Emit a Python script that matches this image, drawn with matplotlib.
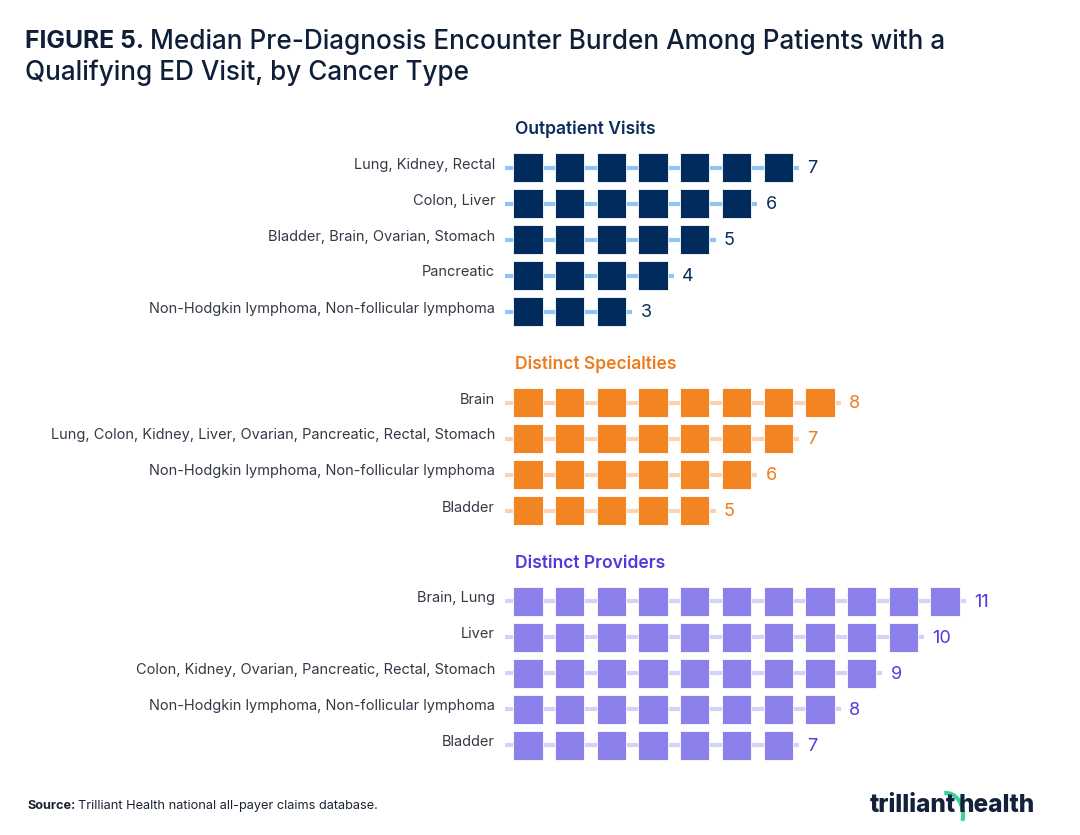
import matplotlib.pyplot as plt
from matplotlib.patches import Rectangle, Arc

plt.rcParams['font.family'] = ['Inter', 'DejaVu Sans']

# data
op_labels = ['Lung, Kidney, Rectal', 'Colon, Liver', 'Bladder, Brain, Ovarian, Stomach',
             'Pancreatic', 'Non-Hodgkin lymphoma, Non-follicular lymphoma']
op_values = [7, 6, 5, 4, 3]

sp_labels = ['Brain', 'Lung, Colon, Kidney, Liver, Ovarian, Pancreatic, Rectal, Stomach',
             'Non-Hodgkin lymphoma, Non-follicular lymphoma', 'Bladder']
sp_values = [8, 7, 6, 5]

pr_labels = ['Brain, Lung', 'Liver', 'Colon, Kidney, Ovarian, Pancreatic, Rectal, Stomach',
             'Non-Hodgkin lymphoma, Non-follicular lymphoma', 'Bladder']
pr_values = [11, 10, 9, 8, 7]

groups = [
    ('Outpatient Visits', op_labels, op_values, '#002b5c', '#90c4f5', '#0b2d5b'),
    ('Distinct Specialties', sp_labels, sp_values, '#f28522', '#fbd3b0', '#ec7d1f'),
    ('Distinct Providers', pr_labels, pr_values, '#8c80eb', '#d6d1f8', '#4f3bdc'),
]

W, H = 1080, 835
fig = plt.figure(figsize=(10.8, 8.35), dpi=100)
fig.patch.set_facecolor('white')

# chart axes: x in "square" units, y in pixels
step = 41.7
x0 = 528
ax = fig.add_axes([0, 0, 1, 1])
ax.set_xlim(1 - x0 / step, 1 + (W - x0) / step)
ax.set_ylim(H, 0)
ax.axis('off')

# overlay for text in pixel coords
deco = fig.add_axes([0, 0, 1, 1])
deco.set_xlim(0, W)
deco.set_ylim(H, 0)
deco.axis('off')

sq_w = 29.3 / step
sq_h = 29.3
row_gap = 36
first_rows = [167.5, 402.5, 601.3]

for (title, labels, values, sq_col, line_col, txt_col), y_first in zip(groups, first_rows):
    deco.text(515, y_first - 38, title, color=txt_col, fontsize=12.6, fontweight='semibold',
              ha='left', va='center')
    for k, (lab, v) in enumerate(zip(labels, values)):
        y = y_first + k * row_gap
        ax.plot([1 - 0.56, v + 0.5], [y, y], color=line_col, lw=3, solid_capstyle='butt', zorder=1)
        for i in range(1, v + 1):
            ax.add_patch(Rectangle((i - sq_w / 2, y - sq_h / 2), sq_w, sq_h,
                                   facecolor=sq_col, edgecolor='white', lw=0.6, zorder=2))
        ax.text(v + 0.7, y + 1, str(v), color=txt_col, fontsize=13, ha='left', va='center')
        ax.text(1 - 0.79, y - 3, lab, color='#333a45', fontsize=10.5, ha='right', va='center')

# title
fig.canvas.draw()
r = fig.canvas.get_renderer()
t1 = deco.text(25, 42, 'FIGURE 5.', fontsize=17.8, fontweight='bold', color='#0f1f38',
               ha='left', va='center')
bb = t1.get_window_extent(renderer=r)
deco.text(bb.x1 + 6, 42, 'Median Pre-Diagnosis Encounter Burden Among Patients with a',
          fontsize=18.8, fontweight='medium', color='#0f1f38', ha='left', va='center')
deco.text(25, 73, 'Qualifying ED Visit, by Cancer Type', fontsize=18.8, fontweight='medium',
          color='#0f1f38', ha='left', va='center')

# source
s1 = deco.text(28, 806, 'Source:', fontsize=9.2, fontweight='bold', color='#1b2433',
               ha='left', va='center')
bb = s1.get_window_extent(renderer=r)
deco.text(bb.x1 + 2, 806, 'Trilliant Health national all-payer claims database.', fontsize=9.2,
          color='#1b2433', ha='left', va='center')

# logo
l1 = deco.text(870, 806, 'trilliant', fontsize=17.5, fontweight='heavy', color='#14213a',
               ha='left', va='center')
bb = l1.get_window_extent(renderer=r)
deco.text(bb.x1 + 3, 806, 'health', fontsize=17.5, fontweight='heavy', color='#14213a',
          ha='left', va='center')
deco.add_patch(Arc((bb.x1 - 10, 815), 34, 44, theta1=-95, theta2=20, color='#3ed39a', lw=3))

fig.savefig('out.png', dpi=100, facecolor='white')
